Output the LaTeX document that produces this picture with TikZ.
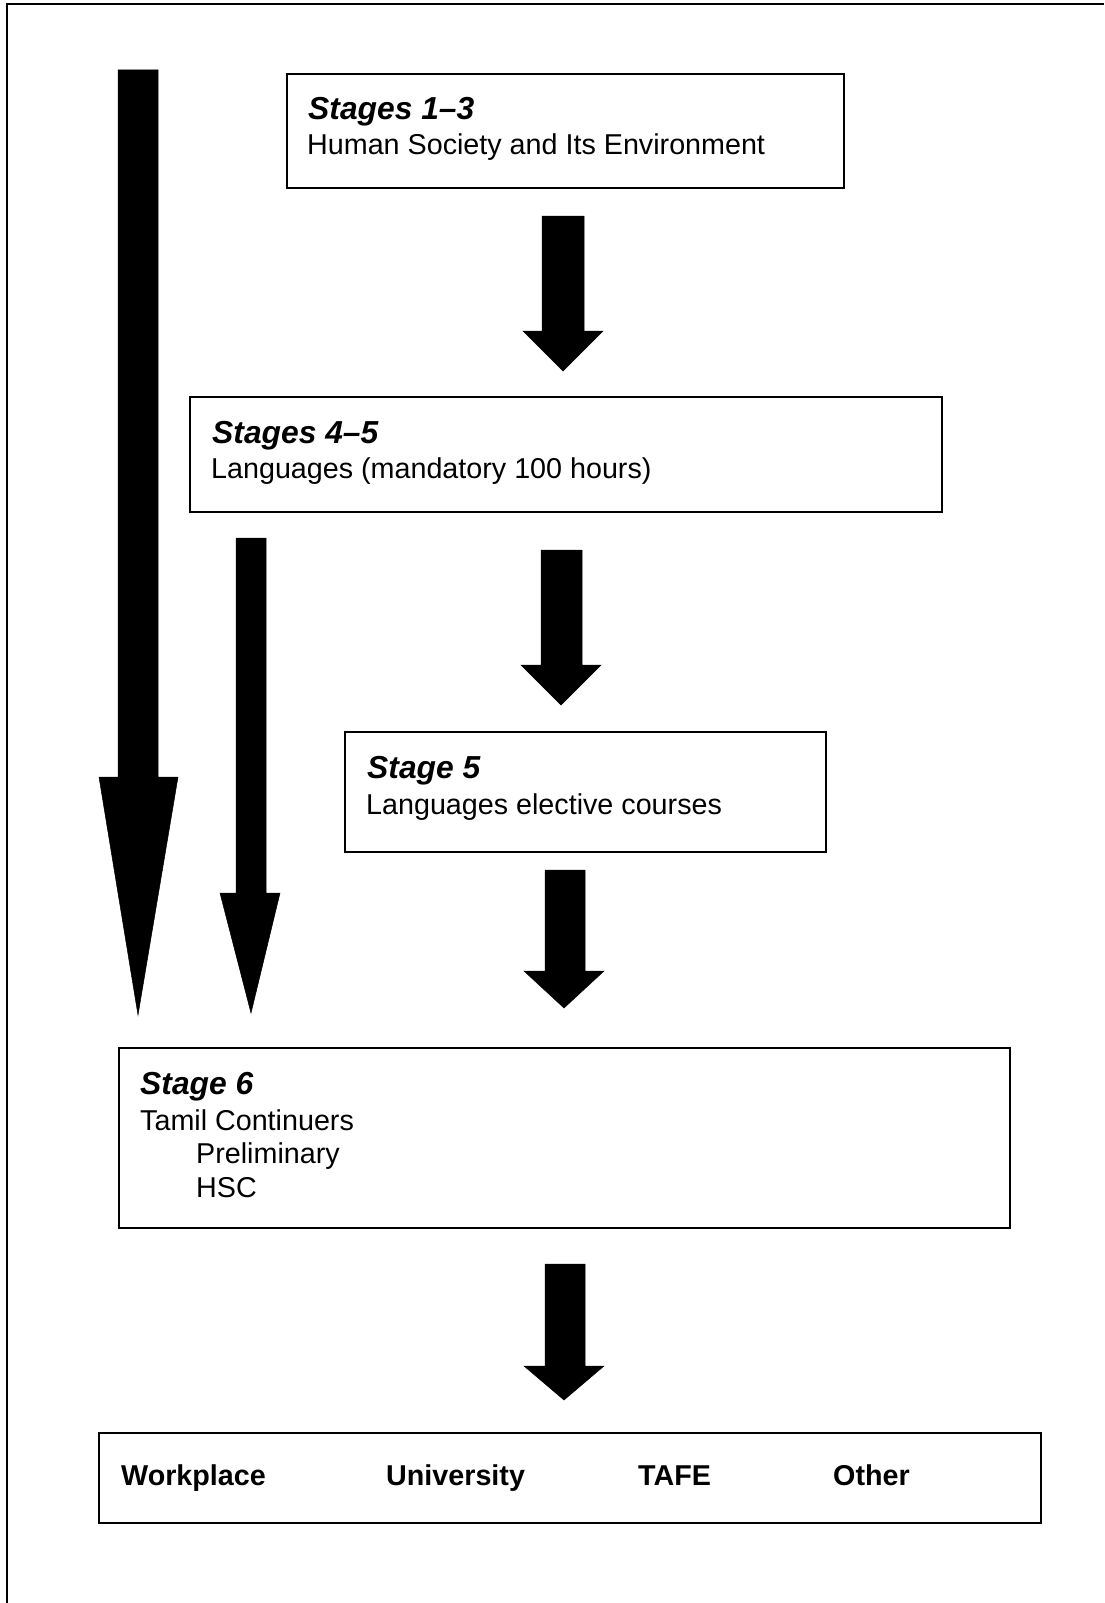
\documentclass[tikz,border=0pt]{standalone}
\usepackage{fontspec}
\setmainfont{Liberation Sans}
\begin{document}
\begin{tikzpicture}[x=1pt,y=-1pt,
  box/.style={draw=black, line width=1.6pt, fill=none},
  blockarrow/.style={fill=black, draw=black, line width=0.5pt, line join=miter},
  frame/.style={draw=black, line width=2pt},
  txt/.style={anchor=base west, inner sep=0pt, font=\fontsize{28.7}{34.5}\selectfont},
  head/.style={txt, font=\fontsize{31.8}{34.5}\selectfont\bfseries\itshape},
  dest/.style={txt, font=\fontsize{28.7}{34.5}\selectfont\bfseries}]
\useasboundingbox (0,0) rectangle (1104,1603);
\fill[white] (0,0) rectangle (1104,1603);
% page frame (top and left edges)
\draw[frame] (7,1603) -- (7,4) -- (1104,4);
% boxes
\draw[box] (287,74) rectangle (844,188);
\draw[box] (190,397) rectangle (942,512);
\draw[box] (345,732) rectangle (826,852);
\draw[box] (119,1048) rectangle (1010,1228);
\draw[box] (99,1433) rectangle (1041,1523);
% texts
\node[head] (t1a) at (308,119) {Stages 1–3};
\node[txt]  (t1b) at (307,154) {Human Society and Its Environment};
\node[head] (t2a) at (212,443) {Stages 4–5};
\node[txt]  (t2b) at (211,478) {Languages (mandatory 100 hours)};
\node[head] (t3a) at (367,778) {Stage 5};
\node[txt]  (t3b) at (366,814) {Languages elective courses};
\node[head] (t4a) at (140,1094) {Stage 6};
\node[txt]  (t4b) at (140,1130) {Tamil Continuers};
\node[txt]  (t4c) at (196,1163) {Preliminary};
\node[txt]  (t4d) at (196,1197) {HSC};
\node[dest] (d1) at (121,1485) {Workplace};
\node[dest] (d2) at (386,1485) {University};
\node[dest] (d3) at (638,1485) {TAFE};
\node[dest] (d4) at (833,1485) {Other};
% block arrows
\fill[blockarrow] (118,70) -- (158,70) -- (158,777) -- (178,777) -- (138,1015) -- (99,777) -- (118,777) -- cycle;
\fill[blockarrow] (236,538) -- (266,538) -- (266,893) -- (280,893) -- (251,1013) -- (220,893) -- (236,893) -- cycle;
\fill[blockarrow] (542,216) -- (584,216) -- (584,331) -- (603,331) -- (563,371) -- (523,331) -- (542,331) -- cycle;
\fill[blockarrow] (541,550) -- (582,550) -- (582,665) -- (601,665) -- (561,705) -- (521,665) -- (541,665) -- cycle;
\fill[blockarrow] (545,870) -- (585,870) -- (585,971) -- (604,971) -- (564,1008) -- (524,971) -- (545,971) -- cycle;
\fill[blockarrow] (545,1264) -- (585,1264) -- (585,1366) -- (604,1366) -- (564,1400) -- (524,1366) -- (545,1366) -- cycle;
\end{tikzpicture}
\end{document}
